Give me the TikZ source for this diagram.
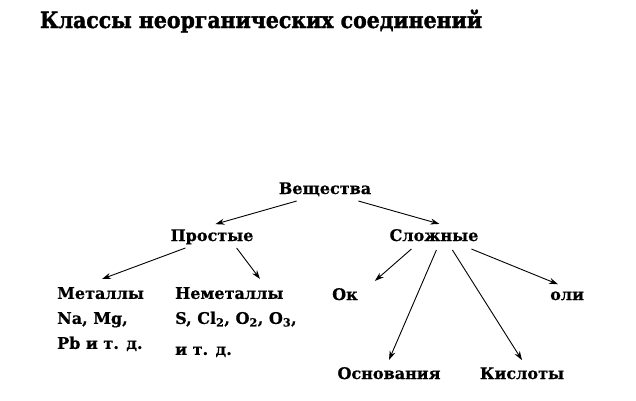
\documentclass[tikz,border=0pt]{standalone}
\usepackage{fontspec}
\setmainfont{DejaVu Serif}[FakeBold=0.6]
\newfontfamily\headfont{DejaVu Serif}[FakeStretch=0.91, FakeBold=1.6]
\usetikzlibrary{positioning, arrows.meta}
\tikzstyle{heading} = [font=\headfont\bfseries\fontsize{22.5}{26}\selectfont, inner sep=0pt, anchor=base]
\tikzstyle{term} = [font=\bfseries\fontsize{16}{25}\selectfont, inner sep=0pt, anchor=base]
\tikzstyle{group} = [term, anchor=north west, align=left]
\tikzstyle{arrow} = [line width=0.9pt, -{Stealth[length=9pt, width=6pt]}]

\begin{document}
\begin{tikzpicture}[x=1pt, y=-1pt]
\useasboundingbox (0,0) rectangle (636,400);
\node (head) [heading] at (261,28) {Классы неорганических соединений};

\node (ves) [term] at (325,194) {Вещества};
\node (pro) [term] at (212,241) {Простые};
\node (slo) [term] at (434,241) {Сложные};
\node (met) [group] at (57,287) {Металлы\\ Na, Mg,\\ Pb и т. д.};
\node (nem) [group] at (175,287) {Неметаллы\\ S, Cl\textsubscript{2}, O\textsubscript{2}, O\textsubscript{3},\\[6pt] и т. д.};
\node (ok) [term, anchor=base west] at (332,300) {Ок};
\node (sol) [term, anchor=base west] at (550,300) {оли};
\node (osn) [term] at (389,379) {Основания};
\node (kis) [term] at (522,379) {Кислоты};

\draw [arrow] ([xshift=18pt, yshift=-7pt]ves.base west) -- ([xshift=45pt, yshift=5pt]pro.north west);
\draw [arrow] ([xshift=-13pt, yshift=-7pt]ves.base east) -- ([xshift=50pt, yshift=5pt]slo.north west);
\draw [arrow] ([xshift=15pt, yshift=-7pt]pro.base west) -- ([xshift=45pt, yshift=8pt]met.north west);
\draw [arrow] ([xshift=-17pt, yshift=-7pt]pro.base east) -- ([xshift=85pt, yshift=8pt]nem.north west);
\draw [arrow] ([xshift=22pt, yshift=-8pt]slo.base west) -- ([xshift=17pt, yshift=7pt]ok.north east);
\draw [arrow] ([xshift=47pt, yshift=-9pt]slo.base west) -- ([yshift=7pt]osn.north);
\draw [arrow] ([xshift=63pt, yshift=-9pt]slo.base west) -- ([yshift=7pt]kis.north);
\draw [arrow] ([xshift=82pt, yshift=-8pt]slo.base west) -- ([xshift=8pt, yshift=7pt]sol.north west);
\end{tikzpicture}
\end{document}
